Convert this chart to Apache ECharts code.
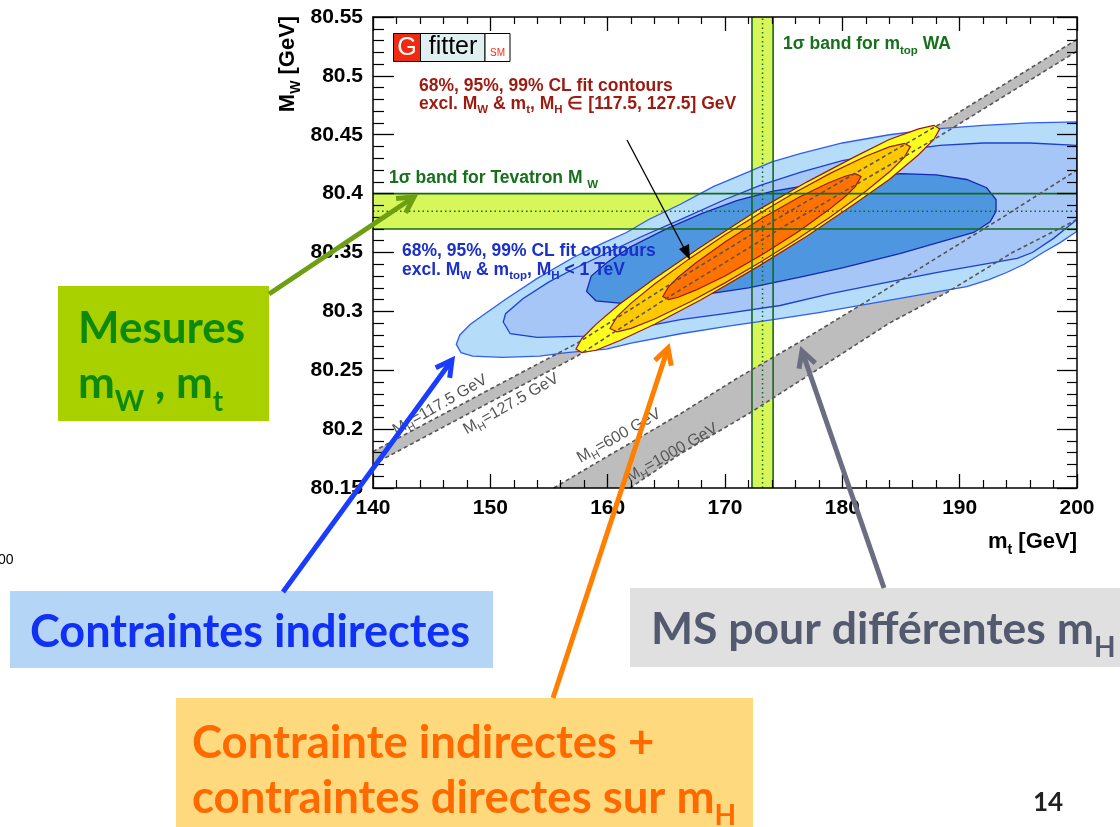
<!DOCTYPE html>
<html><head><meta charset="utf-8">
<script src="https://cdn.jsdelivr.net/npm/echarts@6/dist/echarts.min.js"></script>
<style>html,body{margin:0;padding:0;background:#fff}#c{width:1120px;height:827px}</style>
</head><body><div id="c"></div>
<script>
// ---------------- data ----------------
const X_RANGE = [140, 200];          // m_t [GeV]
const Y_RANGE = [80.15, 80.55];      // M_W [GeV]
const X_STEP = 10, Y_STEP = 0.05;

// 1 sigma bands: [low, centre, high]
const WA_MT = [172.3, 173.2, 174.1];
const TEV_MW = [80.370, 80.385, 80.400];

// SM prediction lines for different M_H
const SM_117 = [[140,80.181],[150,80.234],[157.4,80.273],[165,80.321],[175,80.382],[188.3,80.459],[200,80.531]];
const SM_127 = [[140,80.170],[150,80.223],[157.4,80.262],[165,80.311],[175,80.372],[188.3,80.449],[200,80.521]];
const SM_600 = [[155.4,80.15],[160,80.177],[166.2,80.213],[171,80.243],[176.7,80.276],[182,80.308],[187.8,80.344],[194,80.382],[200,80.42]];
const SM_1000 = [[161.9,80.15],[166.2,80.179],[172,80.213],[178.1,80.252],[184,80.290],[188.9,80.316],[194.5,80.350],[200,80.378]];

// indirect fit contours (M_H < 1 TeV)
const IND_99 = [[147.1,80.272],[147.4,80.280],[148.3,80.289],[149.7,80.299],[151.4,80.311],[154,80.328],[157.1,80.346],[159.6,80.358],[161.6,80.367],[163.5,80.378],[166.2,80.391],[169,80.406],[171.9,80.418],[174,80.427],[176.4,80.434],[180,80.443],[184,80.450],[188,80.455],[192,80.458],[196,80.460],[200,80.461],[200,80.368],[198.5,80.358],[197.1,80.350],[195.5,80.340],[194,80.333],[192.5,80.327],[190.6,80.321],[188.9,80.318],[186,80.313],[182,80.306],[178,80.299],[174.1,80.293],[170,80.287],[166.2,80.281],[162,80.273],[159.9,80.268],[156.5,80.265],[154.2,80.262],[151,80.261],[148.5,80.262],[147.5,80.265]];
const IND_95 = [[151.1,80.291],[151.3,80.298],[152.8,80.311],[155,80.325],[157.1,80.336],[160,80.350],[163,80.364],[166.2,80.378],[170,80.395],[173,80.407],[176.4,80.418],[180,80.428],[184.6,80.436],[188.3,80.441],[192,80.443],[196,80.443],[200,80.441],[200,80.378],[198,80.362],[196.2,80.350],[194.9,80.345],[192,80.340],[188,80.333],[184,80.325],[179,80.315],[174.7,80.305],[170,80.298],[166.2,80.293],[162,80.285],[158,80.279],[154,80.278],[151.7,80.281]];
const IND_68 = [[158.2,80.317],[158.6,80.330],[160,80.342],[162,80.355],[165,80.370],[168,80.383],[171,80.394],[174,80.402],[177,80.407],[181,80.413],[185,80.417],[188,80.416],[190.6,80.412],[192.3,80.405],[193.1,80.395],[193.1,80.385],[192.6,80.376],[191.2,80.367],[188,80.358],[184.9,80.349],[180,80.337],[176.4,80.329],[172,80.320],[168,80.314],[164,80.309],[161,80.307],[159,80.309]];

// fit contours including M_H in [117.5,127.5]
const DIR_99 = [[157.3,80.268],[157.8,80.277],[159,80.289],[161,80.306],[164,80.328],[168,80.355],[172.8,80.386],[177,80.410],[181,80.431],[184,80.446],[186.5,80.455],[187.8,80.458],[188.3,80.455],[187.8,80.446],[186.5,80.433],[184,80.412],[181,80.391],[177,80.364],[172.8,80.338],[168,80.310],[164,80.289],[161,80.275],[159,80.267],[157.8,80.265]];
const DIR_95 = [[160.2,80.2855],[160.8,80.2955],[162,80.3070],[164,80.3233],[167,80.3450],[170,80.3650],[173,80.3836],[176,80.4012],[179,80.4174],[182,80.4318],[184,80.4397],[185.3,80.4426],[185.8,80.4399],[185.3,80.4310],[184,80.4183],[182,80.4020],[179,80.3804],[176,80.3604],[173,80.3418],[170,80.3242],[167,80.3080],[164,80.2935],[162,80.2856],[160.8,80.2827]];
const DIR_68 = [[164.7,80.3126],[165.2,80.3210],[166,80.3290],[167.5,80.3410],[170,80.3590],[173.15,80.3790],[176.3,80.3970],[178.8,80.4090],[180.3,80.4150],[181.1,80.4170],[181.6,80.4146],[181.1,80.4060],[180.3,80.3980],[178.8,80.3860],[176.3,80.3680],[173.15,80.3480],[170,80.3300],[167.5,80.3180],[166,80.3120],[165.2,80.3100]];

// ---------------- chart ----------------
const FONT = '"Liberation Sans", Arial, sans-serif';
const SLIDE = 'Lato, "Open Sans", sans-serif';
const chart = echarts.init(document.getElementById('c'));

function poly(pts, fill, stroke, lw, z) {
  return {
    type: 'custom', coordinateSystem: 'cartesian2d', clip: true, silent: true, z: z,
    data: pts, encode: {x: 0, y: 1},
    renderItem: function (params, api) {
      if (params.dataIndex !== 0) return null;
      const points = pts.map(p => api.coord(p));
      return {type: 'polygon', shape: {points: points},
        style: {fill: fill, stroke: stroke || null, lineWidth: lw || 0}};
    }
  };
}
function line(pts, color, type, width, z) {
  return {type: 'line', data: pts, symbol: 'none', showSymbol: false, silent: true, z: z,
    lineStyle: {color: color, type: type, width: width}, clip: true};
}
function rect(x0, x1, y0, y1) { return [[x0,y0],[x1,y0],[x1,y1],[x0,y1]]; }

const series = [
  poly(rect(WA_MT[0], WA_MT[2], Y_RANGE[0], Y_RANGE[1]), '#d6f65a', null, 0, 1),
  poly(rect(X_RANGE[0], X_RANGE[1], TEV_MW[0], TEV_MW[2]), '#d6f65a', null, 0, 1),
  poly(SM_117.concat(SM_127.slice().reverse()), '#bdbdbd', null, 0, 2),
  poly(SM_600.concat(SM_1000.slice().reverse()), '#bdbdbd', null, 0, 2),
  poly(IND_99, '#b5dcf9', '#2f5df2', 1.3, 3),
  poly(IND_95, '#a5c6f7', '#1c3fd3', 1.3, 4),
  poly(IND_68, '#4e97e0', '#1428b2', 1.3, 5),
  poly(DIR_99, '#ffff1e', '#a0140e', 1.2, 6),
  poly(DIR_95, '#ffc800', '#a0140e', 1.2, 7),
  poly(DIR_68, '#ff7200', '#a0140e', 1.2, 8),
  line([[WA_MT[0],Y_RANGE[0]],[WA_MT[0],Y_RANGE[1]]], '#16681a', 'solid', 1.6, 9),
  line([[WA_MT[2],Y_RANGE[0]],[WA_MT[2],Y_RANGE[1]]], '#16681a', 'solid', 1.6, 9),
  line([[WA_MT[1],Y_RANGE[0]],[WA_MT[1],Y_RANGE[1]]], '#16681a', [1.5,3], 1.5, 9),
  line([[X_RANGE[0],TEV_MW[0]],[X_RANGE[1],TEV_MW[0]]], '#16681a', 'solid', 1.6, 9),
  line([[X_RANGE[0],TEV_MW[2]],[X_RANGE[1],TEV_MW[2]]], '#16681a', 'solid', 1.6, 9),
  line([[X_RANGE[0],TEV_MW[1]],[X_RANGE[1],TEV_MW[1]]], '#16681a', [1.5,3], 1.5, 9),
  line(SM_117, '#555555', [4,3], 1.6, 10),
  line(SM_127, '#555555', [4,3], 1.6, 10),
  line(SM_600, '#555555', [4,3], 1.6, 10),
  line(SM_1000, '#555555', [4,3], 1.6, 10)
];

function axisCommon(showLabel, major, minor) {
  return {
    axisLine: {show: true, onZero: false, lineStyle: {color: '#000', width: 1.5}},
    axisTick: {show: true, inside: true, length: major, lineStyle: {color: '#000', width: 1.3}},
    minorTick: {show: true, splitNumber: 5, length: minor, lineStyle: {color: '#000', width: 1.2}},
    splitLine: {show: false}, minorSplitLine: {show: false},
    axisLabel: {show: showLabel, fontFamily: FONT, fontWeight: 'bold', fontSize: 21, color: '#000', margin: 10,
      formatter: v => String(+(+v).toFixed(2))},
    z: 50
  };
}

const RS = {  // rich styles
  r: {fontFamily: FONT, fontWeight: 'bold', fontSize: 17.5, fill: '#9c1a10', lineHeight: 22, verticalAlign: 'middle'},
  rs: {fontFamily: FONT, fontWeight: 'bold', fontSize: 11.5, fill: '#9c1a10', lineHeight: 24, verticalAlign: 'bottom'},
  b: {fontFamily: FONT, fontWeight: 'bold', fontSize: 17.5, fill: '#1a30c8', lineHeight: 22, verticalAlign: 'middle'},
  bs: {fontFamily: FONT, fontWeight: 'bold', fontSize: 11.5, fill: '#1a30c8', lineHeight: 24, verticalAlign: 'bottom'},
  g: {fontFamily: FONT, fontWeight: 'bold', fontSize: 17.5, fill: '#17701b', lineHeight: 22, verticalAlign: 'middle'},
  gs: {fontFamily: FONT, fontWeight: 'bold', fontSize: 11.5, fill: '#17701b', lineHeight: 25, verticalAlign: 'bottom'},
  k: {fontFamily: FONT, fontSize: 16, fill: '#555', lineHeight: 20, verticalAlign: 'middle'},
  ks: {fontFamily: FONT, fontSize: 11, fill: '#555', lineHeight: 22, verticalAlign: 'bottom'},
  T: {fontFamily: FONT, fontWeight: 'bold', fontSize: 22, fill: '#000', lineHeight: 28, verticalAlign: 'middle'},
  Ts: {fontFamily: FONT, fontWeight: 'bold', fontSize: 14, fill: '#000', lineHeight: 30, verticalAlign: 'bottom'}
};
function txt(x, y, text, extra) {
  return Object.assign({type: 'text', x: x, y: y, z: 100, silent: true,
    style: {text: text, rich: RS, textVerticalAlign: 'middle'}}, extra || {});
}
function rtxt(x, y, text, rot) {
  return {type: 'text', x: x, y: y, z: 100, silent: true, rotation: rot,
    style: {text: text, rich: RS, textAlign: 'center', textVerticalAlign: 'middle'}};
}
function arrow(x1, y1, x2, y2, color, w, head) {
  const a = Math.atan2(y2 - y1, x2 - x1), s = 0.5;
  return [
    {type: 'polyline', z: 100, silent: true, shape: {points: [[x1,y1],[x2,y2]]}, style: {stroke: color, lineWidth: w, lineCap: 'butt'}},
    {type: 'polyline', z: 100, silent: true, shape: {points: [
      [x2 - head*Math.cos(a - s), y2 - head*Math.sin(a - s)], [x2, y2],
      [x2 - head*Math.cos(a + s), y2 - head*Math.sin(a + s)]]},
      style: {stroke: color, lineWidth: w, lineJoin: 'miter', fill: null}}
  ];
}
function box(x, y, w, h, fill) {
  return {type: 'rect', z: 90, silent: true, shape: {x: x, y: y, width: w, height: h}, style: {fill: fill}};
}
const SL = {
  gr: {fontFamily: SLIDE, fontWeight: 'bold', fontSize: 44, fill: '#0d8a0d', lineHeight: 56, verticalAlign: 'middle'},
  grs: {fontFamily: SLIDE, fontWeight: 'bold', fontSize: 28, fill: '#0d8a0d', lineHeight: 64, verticalAlign: 'bottom'},
  bl: {fontFamily: SLIDE, fontWeight: 'bold', fontSize: 45, fill: '#1030f5', lineHeight: 54, verticalAlign: 'middle'},
  gy: {fontFamily: SLIDE, fontWeight: 'bold', fontSize: 44.5, fill: '#535a70', lineHeight: 54, verticalAlign: 'middle'},
  gys: {fontFamily: SLIDE, fontWeight: 'bold', fontSize: 28, fill: '#535a70', lineHeight: 64, verticalAlign: 'bottom'},
  or: {fontFamily: SLIDE, fontWeight: 'bold', fontSize: 45.5, fill: '#ff6a00', lineHeight: 54, verticalAlign: 'middle'},
  ors: {fontFamily: SLIDE, fontWeight: 'bold', fontSize: 28, fill: '#ff6a00', lineHeight: 64, verticalAlign: 'bottom'}
};
function stxt(x, y, text) {
  return {type: 'text', x: x, y: y, z: 100, silent: true, style: {text: text, rich: SL, textVerticalAlign: 'middle'}};
}

const graphics = [
  // Gfitter logo
  {type: 'rect', z: 100, shape: {x: 393.5, y: 33.5, width: 27, height: 28}, style: {fill: '#f02a10', stroke: '#000', lineWidth: 1}},
  {type: 'rect', z: 100, shape: {x: 420.5, y: 33.5, width: 64.5, height: 28}, style: {fill: '#e0f0f0', stroke: '#000', lineWidth: 1}},
  {type: 'rect', z: 100, shape: {x: 485, y: 33.5, width: 25, height: 28}, style: {fill: '#fff', stroke: '#000', lineWidth: 1}},
  {type: 'text', z: 101, x: 407, y: 48, style: {text: 'G', font: '25px ' + FONT, fill: '#fff', textAlign: 'center', textVerticalAlign: 'middle'}},
  {type: 'text', z: 101, x: 453, y: 47, style: {text: 'fitter', font: '25px ' + FONT, fill: '#000', textAlign: 'center', textVerticalAlign: 'middle'}},
  {type: 'text', z: 101, x: 497.5, y: 53, style: {text: 'SM', font: '10px ' + FONT, fill: '#ff2a10', textAlign: 'center', textVerticalAlign: 'middle'}},
  // chart annotations
  txt(419, 86, '{r|68%, 95%, 99% CL fit contours}'),
  txt(419, 104, '{r|excl. M}{rs|W}{r| & m}{rs|t}{r|, M}{rs|H}{r| ∈ [117.5, 127.5] GeV}'),
  txt(783, 44, '{g|1σ band for m}{gs|top}{g| WA}'),
  txt(389, 178, '{g|1σ band for Tevatron M }{gs|W}'),
  txt(402, 251, '{b|68%, 95%, 99% CL fit contours}'),
  txt(402, 270, '{b|excl. M}{bs|W}{b| & m}{bs|top}{b|, M}{bs|H}{b| < 1 TeV}'),
  rtxt(440, 405, '{k|M}{ks|H}{k|=117.5 GeV}', 0.52),
  rtxt(511, 404, '{k|M}{ks|H}{k|=127.5 GeV}', 0.52),
  rtxt(619, 436, '{k|M}{ks|H}{k|=600 GeV}', 0.52),
  rtxt(672, 453, '{k|M}{ks|H}{k|=1000 GeV}', 0.52),
  // axis titles
  rtxt(288, 64, '{T|M}{Ts|W}{T| [GeV]}', Math.PI / 2),
  {type: 'text', x: 1077, y: 542, z: 100, silent: true, style: {text: '{T|m}{Ts|t}{T| [GeV]}', rich: RS, textAlign: 'right', textVerticalAlign: 'middle'}},
  // black arrow
  {type: 'polyline', z: 100, shape: {points: [[627,140],[684,248]]}, style: {stroke: '#000', lineWidth: 1.3}},
  {type: 'polygon', z: 100, shape: {points: [[690,260],[679,249],[689,244]]}, style: {fill: '#000'}},
  // slide boxes
  box(58, 286, 211, 135, '#a9d100'),
  stxt(78, 329, '{gr|Mesures}'),
  stxt(78, 384, '{gr|m}{grs|W}{gr| , m}{grs|t}'),
  box(10, 591, 483, 77, '#b4d5f6'),
  stxt(30, 632, '{bl|Contraintes indirectes}'),
  box(630, 588, 490, 79, '#e0e0e0'),
  stxt(651, 630, '{gy|MS pour différentes m}{gys|H}'),
  box(176, 698, 577, 129, '#fed97e'),
  stxt(192, 743, '{or|Contrainte indirectes +}'),
  stxt(192, 798, '{or|contraintes directes sur m}{ors|H}'),
  {type: 'text', z: 100, x: 1048, y: 803, style: {text: '14', font: 'bold 26px ' + SLIDE, fill: '#222', textAlign: 'center', textVerticalAlign: 'middle'}},
  {type: 'text', z: 100, x: -2, y: 560, style: {text: '00', font: '14px ' + FONT, fill: '#000', textVerticalAlign: 'middle'}}
].concat(
  arrow(269, 294, 414, 197, '#6e9e12', 5, 18),
  arrow(283, 592, 452, 360, '#1a3cff', 5, 18),
  arrow(553, 698, 668, 348, '#ff7f00', 5, 18),
  arrow(884, 588, 802, 351, '#6a6e80', 5, 18)
);

chart.setOption({
  animation: false,
  backgroundColor: '#fff',
  grid: {left: 373, top: 17, width: 704, height: 471, containLabel: false},
  xAxis: [
    Object.assign({type: 'value', min: X_RANGE[0], max: X_RANGE[1], interval: X_STEP, position: 'bottom'}, axisCommon(true, 14, 8)),
    Object.assign({type: 'value', min: X_RANGE[0], max: X_RANGE[1], interval: X_STEP, position: 'top'}, axisCommon(false, 14, 7))
  ],
  yAxis: [
    Object.assign({type: 'value', min: Y_RANGE[0], max: Y_RANGE[1], interval: Y_STEP, position: 'left'}, axisCommon(true, 21, 11)),
    Object.assign({type: 'value', min: Y_RANGE[0], max: Y_RANGE[1], interval: Y_STEP, position: 'right'}, axisCommon(false, 20, 10))
  ],
  series: series,
  graphic: graphics
});
</script>
</body></html>
